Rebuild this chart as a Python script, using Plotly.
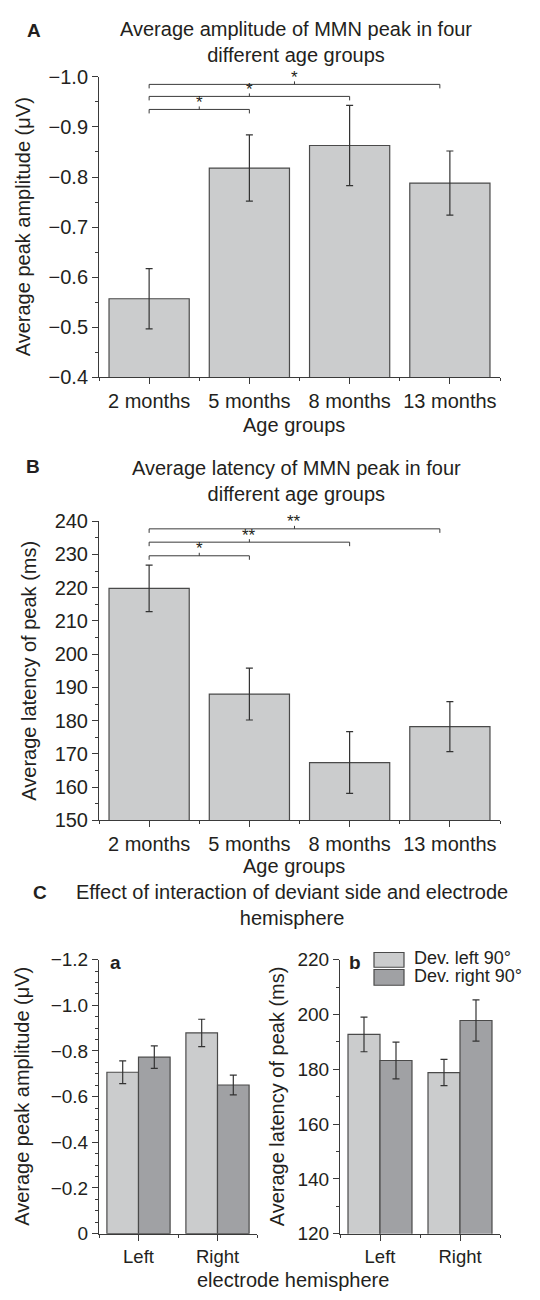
import plotly.graph_objects as go

# ---------------- data ----------------
age_groups = ["2 months", "5 months", "8 months", "13 months"]

amp_mean = [-0.557, -0.818, -0.863, -0.788]
amp_err = [0.060, 0.066, 0.080, 0.064]

lat_mean = [219.8, 188.0, 167.4, 178.2]
lat_err = [7.0, 7.8, 9.3, 7.5]

hemis = ["Left", "Right"]
dev_names = ["Dev. left 90°", "Dev. right 90°"]
c_amp_left = [-0.707, -0.879]
c_amp_left_err = [0.050, 0.060]
c_amp_right = [-0.773, -0.651]
c_amp_right_err = [0.049, 0.043]
c_lat_left = [192.7, 178.8]
c_lat_left_err = [6.3, 4.8]
c_lat_right = [183.2, 197.8]
c_lat_right_err = [6.7, 7.5]

# significance brackets: (from index, to index, level, label)
amp_brackets = [(0, 1, -0.935, "*"), (0, 2, -0.961, "*"), (0, 2.9, -0.985, "*")]
lat_brackets = [(0, 1, 229.6, "*"), (0, 2, 233.7, "**"), (0, 2.9, 237.7, "**")]

amp_ticks = [-0.4, -0.5, -0.6, -0.7, -0.8, -0.9, -1.0]
amp_ticktext = ["−0.4", "−0.5", "−0.6", "−0.7", "−0.8", "−0.9", "−1.0"]
lat_ticks = [150, 160, 170, 180, 190, 200, 210, 220, 230, 240]
c_amp_ticks = [0, -0.2, -0.4, -0.6, -0.8, -1.0, -1.2]
c_amp_ticktext = ["0", "−0.2", "−0.4", "−0.6", "−0.8", "−1.0", "−1.2"]
c_lat_ticks = [120, 140, 160, 180, 200, 220]

# ---------------- style ----------------
W, H = 540, 1300
FONT = "Liberation Sans, Arial, Helvetica, sans-serif"
TXT = "#231f20"
AX = "#3a3a3a"
LIGHT = "#cbcccd"
DARK = "#a0a1a4"
EDGE = "#4a4a4a"


def px(x):
    return x / W


def py(y):
    return 1 - y / H


fig = go.Figure()

err_style = dict(type="data", color="#333333", thickness=1.2, width=3.5)

idx = list(range(len(age_groups)))
fig.add_trace(go.Bar(x=idx, y=amp_mean, error_y=dict(array=amp_err, **err_style),
                     marker=dict(color=LIGHT, line=dict(color=EDGE, width=1.2)),
                     width=0.8, xaxis="x", yaxis="y", showlegend=False))
fig.add_trace(go.Bar(x=idx, y=lat_mean, error_y=dict(array=lat_err, **err_style),
                     marker=dict(color=LIGHT, line=dict(color=EDGE, width=1.2)),
                     width=0.8, xaxis="x2", yaxis="y2", showlegend=False))

hidx = list(range(len(hemis)))
fig.add_trace(go.Bar(x=hidx, y=c_amp_left, error_y=dict(array=c_amp_left_err, **err_style),
                     marker=dict(color=LIGHT, line=dict(color=EDGE, width=1.2)),
                     name=dev_names[0], xaxis="x3", yaxis="y3", showlegend=False))
fig.add_trace(go.Bar(x=hidx, y=c_amp_right, error_y=dict(array=c_amp_right_err, **err_style),
                     marker=dict(color=DARK, line=dict(color=EDGE, width=1.2)),
                     name=dev_names[1], xaxis="x3", yaxis="y3", showlegend=False))
fig.add_trace(go.Bar(x=hidx, y=c_lat_left, error_y=dict(array=c_lat_left_err, **err_style),
                     marker=dict(color=LIGHT, line=dict(color=EDGE, width=1.2)),
                     name=dev_names[0], xaxis="x4", yaxis="y4", showlegend=False))
fig.add_trace(go.Bar(x=hidx, y=c_lat_right, error_y=dict(array=c_lat_right_err, **err_style),
                     marker=dict(color=DARK, line=dict(color=EDGE, width=1.2)),
                     name=dev_names[1], xaxis="x4", yaxis="y4", showlegend=False))


def xax(domain, anchor, n, labels, minor_vals, fs=20):
    return dict(domain=domain, anchor=anchor, range=[-0.5, n - 0.5],
                tickmode="array", tickvals=list(range(n)), ticktext=labels,
                ticks="outside", ticklen=6, tickwidth=1, tickcolor=AX,
                showline=True, linecolor=AX, linewidth=1, showgrid=False,
                zeroline=False, tickfont=dict(family=FONT, size=fs, color=TXT),
                minor=dict(tickmode="array", tickvals=minor_vals, ticks="outside",
                           ticklen=3, tickcolor=AX, showgrid=False),
                fixedrange=True)


def yax(domain, anchor, rng, tv, tt, mdt, fs=20):
    return dict(domain=domain, anchor=anchor, range=rng,
                tickmode="array", tickvals=tv, ticktext=tt,
                ticks="outside", ticklen=6, tickwidth=1, tickcolor=AX,
                showline=True, linecolor=AX, linewidth=1, showgrid=False,
                zeroline=False, tickfont=dict(family=FONT, size=fs, color=TXT),
                minor=dict(dtick=mdt, tick0=0, ticks="outside", ticklen=3,
                           tickcolor=AX, showgrid=False),
                fixedrange=True)


minor4 = [-0.5, 0.5, 1.5, 2.5, 3.5]
minor2 = [-0.5, 0.5, 1.5]

fig.update_layout(
    width=W, height=H, margin=dict(l=0, r=0, t=0, b=0),
    paper_bgcolor="white", plot_bgcolor="white",
    barmode="group", bargap=0.2, bargroupgap=0,
    font=dict(family=FONT, color=TXT, size=20),
    xaxis=xax([px(99), px(500)], "y", 4, age_groups, minor4),
    yaxis=yax([py(372.7), py(67)], "x", [-0.4, -1.0], amp_ticks, amp_ticktext, 0.05),
    xaxis2=xax([px(99), px(500)], "y2", 4, age_groups, minor4),
    yaxis2=yax([py(823.3), py(519)], "x2", [150, 240], lat_ticks,
               [str(v) for v in lat_ticks], 5),
    xaxis3=xax([px(99), px(257)], "y3", 2, hemis, minor2, fs=18.5),
    yaxis3=yax([py(1243.7), py(965)], "x3", [0, -1.2], c_amp_ticks, c_amp_ticktext, 0.05, fs=19),
    xaxis4=xax([px(340), px(500)], "y4", 2, hemis, minor2, fs=18.5),
    yaxis4=yax([py(1243.7), py(965)], "x4", [120, 220], c_lat_ticks,
               [str(v) for v in c_lat_ticks], 10, fs=19),
)

shapes = []
annotations = []


def add_brackets(brs, xref, yref, star_shift):
    for a, b, lvl, lab in brs:
        line = dict(color=AX, width=1)
        shapes.append(dict(type="line", xref=xref, yref=yref, x0=a, x1=b,
                           y0=lvl, y1=lvl, line=line))
        for xx in (a, b):
            shapes.append(dict(type="line", xref=xref, yref=yref, ysizemode="pixel",
                               yanchor=lvl, x0=xx, x1=xx, y0=0, y1=-4, line=line))
        c = (a + b) / 2
        shapes.append(dict(type="line", xref=xref, yref=yref, ysizemode="pixel",
                           yanchor=lvl, x0=c, x1=c, y0=0, y1=3, line=line))
        annotations.append(dict(x=c, y=lvl, xref=xref, yref=yref, text=lab,
                                showarrow=False, yshift=star_shift,
                                font=dict(family=FONT, size=17, color=TXT)))


add_brackets(amp_brackets, "x", "y", 7)
add_brackets(lat_brackets, "x2", "y2", 7)


def text(x, y, s, size=20, bold=False, angle=0):
    annotations.append(dict(x=px(x), y=py(y), xref="paper", yref="paper",
                            text=f"<b>{s}</b>" if bold else s, showarrow=False,
                            textangle=angle, xanchor="center", yanchor="middle",
                            font=dict(family=FONT, size=size, color=TXT)))


# panel labels
text(34, 20, "A", 19, bold=True)
text(33, 463, "B", 19, bold=True)
text(40, 897, "C", 19, bold=True)
text(115, 968, "a", 19, bold=True)
text(355, 968, "b", 19, bold=True)

# titles
text(296, 31.5, "Average amplitude of MMN peak in four<br>different age groups", 20)
text(296, 478, "Average latency of MMN peak in four<br>different age groups", 20)
text(292, 909.5, "Effect of interaction of deviant side and electrode<br>hemisphere", 20)

# axis titles
text(294, 421, "Age groups", 20)
text(294, 870, "Age groups", 20)
text(293, 1291, "electrode hemisphere", 20)
text(23, 220, "Average peak amplitude (μV)", 20, angle=-90)
text(29, 671, "Average latency of peak (ms)", 20, angle=-90)
text(22.5, 1104, "Average peak amplitude (μV)", 20, angle=-90)
text(277, 1104, "Average latency of peak (ms)", 20, angle=-90)

# legend (manual)
for (y0, y1, col, name, ty) in [(957.7, 972.7, LIGHT, dev_names[0], 963.5),
                                (975, 991, DARK, dev_names[1], 982)]:
    shapes.append(dict(type="rect", xref="paper", yref="paper",
                       x0=px(374), x1=px(404), y0=py(y1), y1=py(y0),
                       fillcolor=col, line=dict(color=EDGE, width=1.2)))
    annotations.append(dict(x=px(412), y=py(ty), xref="paper", yref="paper",
                            text=name, showarrow=False, xanchor="left",
                            yanchor="middle",
                            font=dict(family=FONT, size=18, color=TXT)))

fig.update_layout(shapes=shapes, annotations=annotations)

fig.write_html("out.html")
